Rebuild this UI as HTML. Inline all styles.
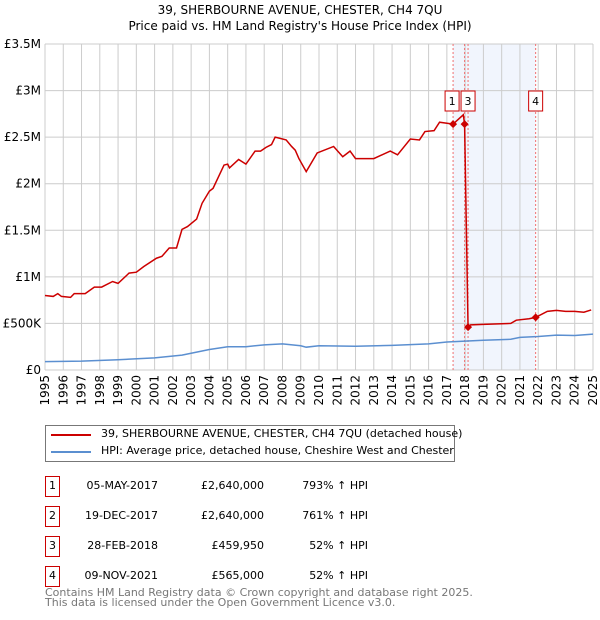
<!DOCTYPE html>
<html><head><meta charset="utf-8"><style>
body{margin:0;background:#fff;font-family:"DejaVu Sans","Liberation Sans",sans-serif;}
#wrap{position:relative;width:600px;height:620px;overflow:hidden;}
.t{position:absolute;font-size:12px;color:#000;white-space:nowrap;}
</style></head><body><div id="wrap">
<div class="t" style="left:0;width:600px;text-align:center;top:2px;line-height:16px">39, SHERBOURNE AVENUE, CHESTER, CH4 7QU<br>Price paid vs. HM Land Registry's House Price Index (HPI)</div>
<svg id="chart" width="600" height="420" style="position:absolute;left:0;top:0"></svg>
<div style="position:absolute;left:45px;top:425px;width:408px;height:35px;border:1px solid #777">
<div style="position:absolute;left:5px;top:8px;width:40px;height:2px;background:#cc0000"></div>
<div class="t" style="left:55px;top:1px;font-size:11px">39, SHERBOURNE AVENUE, CHESTER, CH4 7QU (detached house)</div>
<div style="position:absolute;left:5px;top:25px;width:40px;height:2px;background:#5b8fd0"></div>
<div class="t" style="left:55px;top:18px;font-size:11px">HPI: Average price, detached house, Cheshire West and Chester</div>
</div>
<div id="tbl"></div>
<div class="t" style="left:45px;top:588px;color:#777;font-size:11px;line-height:10px">Contains HM Land Registry data © Crown copyright and database right 2025.<br>This data is licensed under the Open Government Licence v3.0.</div>
</div>
<script>
const NS="http://www.w3.org/2000/svg";
const yearTicks=[1995,1996,1997,1998,1999,2000,2001,2002,2003,2004,2005,2006,2007,2008,2009,2010,2011,2012,2013,2014,2015,2016,2017,2018,2019,2020,2021,2022,2023,2024,2025];
const valueTicks=[0,0.5,1,1.5,2,2.5,3,3.5];
const valueTickLabels=["£0","£500K","£1M","£1.5M","£2M","£2.5M","£3M","£3.5M"];
const redYears=[1995,1995.45,1995.7,1995.9,1996.4,1996.6,1997.2,1997.7,1998.1,1998.7,1999,1999.6,2000,2000.4,2001.1,2001.4,2001.8,2002.2,2002.5,2002.8,2003.3,2003.6,2004,2004.2,2004.8,2005,2005.1,2005.6,2006,2006.5,2006.8,2007.1,2007.4,2007.6,2008.2,2008.5,2008.7,2008.9,2009.3,2009.9,2010.8,2011.3,2011.7,2012,2013,2013.9,2014.3,2015,2015.5,2015.8,2016.3,2016.6,2017.34,2017.9,2017.97,2018.16,2018.3,2019,2020.5,2020.8,2021.5,2021.86,2022.5,2023,2023.5,2024,2024.5,2024.9];
const redValues=[0.80,0.79,0.82,0.79,0.78,0.82,0.82,0.89,0.89,0.95,0.93,1.04,1.05,1.11,1.20,1.22,1.31,1.31,1.51,1.54,1.62,1.79,1.92,1.95,2.20,2.21,2.17,2.26,2.21,2.35,2.35,2.39,2.42,2.50,2.47,2.40,2.36,2.27,2.13,2.33,2.40,2.29,2.35,2.27,2.27,2.35,2.31,2.48,2.47,2.56,2.57,2.66,2.64,2.74,2.64,0.46,0.485,0.49,0.50,0.535,0.55,0.565,0.63,0.64,0.63,0.63,0.62,0.645];
const hpiYears=[1995,1997,1999,2001,2002.5,2004,2005,2006,2007,2008,2009,2009.3,2010,2012,2014,2016,2017,2018,2019,2020.5,2021,2022,2023,2024,2025];
const hpiValues=[0.09,0.095,0.11,0.13,0.16,0.22,0.25,0.25,0.27,0.28,0.26,0.245,0.26,0.255,0.265,0.28,0.30,0.31,0.32,0.33,0.35,0.36,0.375,0.37,0.385];
const saleLabels=["1","2","3","4"];
const saleYears=[2017.34,2017.97,2018.16,2021.86];
const saleValues=[2.64,2.64,0.45995,0.565];
const saleDates=["05-MAY-2017","19-DEC-2017","28-FEB-2018","09-NOV-2021"];
const salePrices=["£2,640,000","£2,640,000","£459,950","£565,000"];
const saleHpi=["793% ↑ HPI","761% ↑ HPI","52% ↑ HPI","52% ↑ HPI"];
const X0=45,X1=593,Y0=370,Y1=44;
const xs=y=>X0+(y-1995)/30*(X1-X0);
const ys=v=>Y0-v/3.5*(Y0-Y1);
const svg=document.getElementById('chart');
function mk(t,a,p){const e=document.createElementNS(NS,t);for(const k in a)e.setAttribute(k,a[k]);(p||svg).appendChild(e);return e;}
let band=mk('rect',{x:xs(saleYears[0]),y:Y1,width:xs(saleYears[3])-xs(saleYears[0]),height:Y0-Y1,fill:'#eef3fc',opacity:0.8});


yearTicks.forEach(y=>{
 const l=mk('line',{x1:xs(y),x2:xs(y),y1:Y1,y2:Y0,stroke:'#ccc','stroke-width':1});
 
 
 const t=mk('text',{x:0,y:0,transform:`translate(${xs(y)+4},${Y0+5}) rotate(-90)`,'text-anchor':'end','font-size':12,'font-family':'DejaVu Sans,sans-serif'});
 t.textContent=y;
 
 
});
valueTicks.forEach((v,i)=>{
 const l=mk('line',{x1:X0,x2:X1,y1:ys(v),y2:ys(v),stroke:'#ccc','stroke-width':1});
 
 
 const t=mk('text',{x:X0-4,y:ys(v)+4,'text-anchor':'end','font-size':12,'font-family':'DejaVu Sans,sans-serif'});
 t.textContent=valueTickLabels[i];
 
 
});
saleYears.forEach(y=>{
 const l=mk('line',{x1:xs(y),x2:xs(y),y1:Y1,y2:Y0,stroke:'#f07070','stroke-width':1,'stroke-dasharray':'2,2'});
 
 
});
let hp=mk('polyline',{points:hpiYears.map((y,i)=>xs(y)+','+ys(hpiValues[i])).join(' '),fill:'none',stroke:'#5b8fd0','stroke-width':1.5});


let rp=mk('polyline',{points:redYears.map((y,i)=>xs(y)+','+ys(redValues[i])).join(' '),fill:'none',stroke:'#cc0000','stroke-width':1.5});


saleYears.forEach((y,i)=>{
 const cx=xs(y),cy=ys(saleValues[i]);
 const d=mk('polygon',{points:`${cx},${cy-4} ${cx+4},${cy} ${cx},${cy+4} ${cx-4},${cy}`,fill:'#cc0000'});
 
 
 if(i===1)return;
 const g=mk('g',{});
 
 
 const bx=i===0?cx-8:cx-7;
 mk('rect',{x:bx,y:91,width:14,height:20,fill:'#fff',stroke:'#cc0000'},g);
 const t=mk('text',{x:bx+7,y:105,'text-anchor':'middle','font-size':11,'font-family':'DejaVu Sans,sans-serif'},g);
 t.textContent=saleLabels[i];
});
const tbl=document.getElementById('tbl');
saleLabels.forEach((s,i)=>{
 const top=476+i*30;
 const r=document.createElement('div');
 
 
 r.style.cssText=`position:absolute;left:0;top:${top}px;width:600px;height:20px;font-size:11px`;
 r.innerHTML=`<div style="position:absolute;left:45px;top:0;width:13px;height:19px;border:1px solid #cc0000;text-align:center;line-height:17px">${s}</div>
 <div style="position:absolute;left:80px;width:78px;text-align:right;top:3px">${saleDates[i]}</div>
 <div style="position:absolute;left:180px;width:84px;text-align:right;top:3px">${salePrices[i]}</div>
 <div style="position:absolute;left:290px;width:78px;text-align:right;top:3px">${saleHpi[i]}</div>`;
 tbl.appendChild(r);
});
</script></body></html>
